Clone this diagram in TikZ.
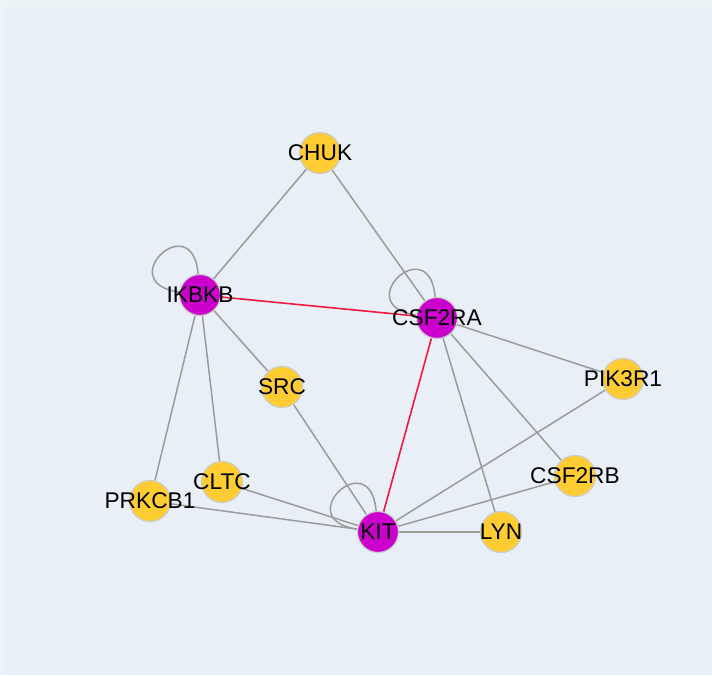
\documentclass[tikz,border=0pt]{standalone}
\usepackage{fontspec}
\setmainfont{Liberation Sans}
\pgfdeclarelayer{bg}
\pgfdeclarelayer{edges}
\pgfsetlayers{bg,edges,main}
\definecolor{outerbg}{RGB}{235,244,247}
\definecolor{innerbg}{RGB}{232,239,247}
\definecolor{gene}{RGB}{255,204,51}
\definecolor{hub}{RGB}{204,0,204}
\definecolor{edgegray}{RGB}{155,155,155}
\definecolor{edgered}{RGB}{242,24,64}
\tikzset{
  genenode/.style={circle, fill=gene, draw=black!20, line width=1.2pt, minimum size=41pt, inner sep=0pt},
  hubnode/.style={genenode, fill=hub},
  genelabel/.style={font=\fontsize{22.7}{26}\selectfont, text=black, inner sep=0pt},
  link/.style={draw=edgegray, line width=1.5pt},
  redlink/.style={draw=edgered, line width=1.6pt}
}
\begin{document}
\begin{tikzpicture}[x=1pt, y=1pt]
\useasboundingbox (0,0) rectangle (712,675);
\begin{pgfonlayer}{bg}
\fill[outerbg] (0,0) rectangle (712,675);
\fill[innerbg] (4,0) rectangle (712,668);
\end{pgfonlayer}
% genes
\node[genenode, label={[genelabel]center:CHUK}] (CHUK) at (320,522) {};
\node[hubnode, label={[genelabel]center:IKBKB}] (IKBKB) at (200,380) {};
\node[hubnode, label={[genelabel]center:CSF2RA}] (CSF2RA) at (437,357) {};
\node[genenode, label={[genelabel]center:SRC}] (SRC) at (282,288) {};
\node[genenode, label={[genelabel]center:PIK3R1}] (PIK3R1) at (623,296) {};
\node[genenode, label={[genelabel]center:CSF2RB}] (CSF2RB) at (575,199) {};
\node[genenode, label={[genelabel]center:CLTC}] (CLTC) at (222,193) {};
\node[genenode, label={[genelabel]center:PRKCB1}] (PRKCB1) at (150,174) {};
\node[hubnode, label={[genelabel]center:KIT}] (KIT) at (378,143) {};
\node[genenode, label={[genelabel]center:LYN}] (LYN) at (501,143) {};
% interactions
\begin{pgfonlayer}{edges}
\foreach \a/\b in {CHUK/IKBKB, CHUK/CSF2RA, IKBKB/SRC, IKBKB/CLTC, IKBKB/PRKCB1,
  CSF2RA/PIK3R1, CSF2RA/CSF2RB, CSF2RA/LYN, SRC/KIT, KIT/PIK3R1, KIT/CSF2RB,
  KIT/LYN, KIT/CLTC, KIT/PRKCB1}
  \draw[link] (\a) -- (\b);
\draw[redlink] (IKBKB) -- (CSF2RA);
\draw[redlink] (CSF2RA) -- (KIT);
% self loops
\foreach \n in {IKBKB, CSF2RA, KIT}
  \draw[link] (\n.95) .. controls +(95:68) and +(172:68) .. (\n.172);
\end{pgfonlayer}
\end{tikzpicture}
\end{document}
